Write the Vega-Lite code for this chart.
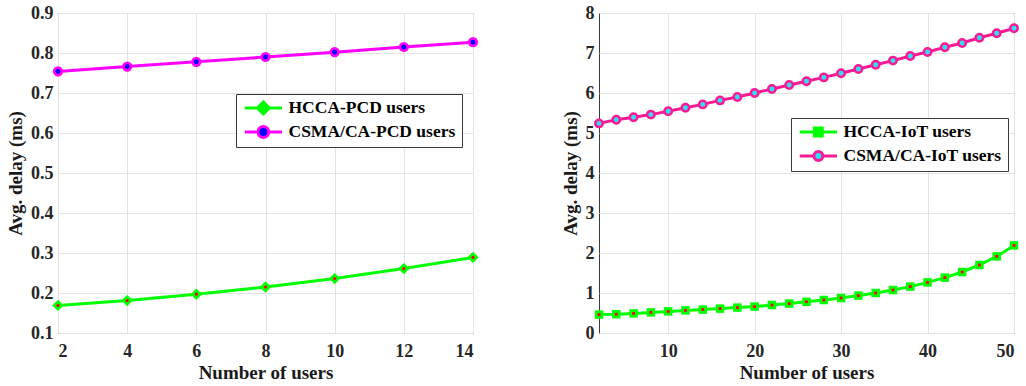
{
  "$schema": "https://vega.github.io/schema/vega-lite/v6.json",
  "padding": {"left": 6, "top": 3, "right": 2, "bottom": 4},
  "spacing": 80,
  "config": {
    "font": "Liberation Serif, Times New Roman, serif",
    "view": {"stroke": "#3a3a3a", "strokeWidth": 1},
    "axis": {
      "labelFont": "Liberation Serif, Times New Roman, serif",
      "labelFontWeight": "bold",
      "labelFontSize": 18,
      "labelColor": "#262626",
      "titleFont": "Liberation Serif, Times New Roman, serif",
      "titleFontWeight": "bold",
      "titleFontSize": 19,
      "titleColor": "#1a1a1a",
      "grid": true,
      "gridColor": "#e3e3e3",
      "gridWidth": 1,
      "domain": false,
      "ticks": false
    },
    "axisX": {"labelPadding": 9, "titlePadding": 3},
    "axisY": {"labelPadding": 5, "titlePadding": 5},
    "legend": {
      "orient": "none",
      "fillColor": "white",
      "strokeColor": "#3a3a3a",
      "padding": 6,
      "labelFont": "Liberation Serif, Times New Roman, serif",
      "labelFontSize": 17.5,
      "labelFontWeight": "bold",
      "labelColor": "#000000",
      "labelLimit": 400,
      "labelOffset": 29,
      "symbolSize": 144,
      "symbolStrokeWidth": 3,
      "clipHeight": 16,
      "rowPadding": 6
    }
  },
  "datasets": {
    "pcd": [
      {"users": 2, "series": "HCCA-PCD users", "delay": 0.169},
      {"users": 4, "series": "HCCA-PCD users", "delay": 0.181},
      {"users": 6, "series": "HCCA-PCD users", "delay": 0.197},
      {"users": 8, "series": "HCCA-PCD users", "delay": 0.215},
      {"users": 10, "series": "HCCA-PCD users", "delay": 0.236},
      {"users": 12, "series": "HCCA-PCD users", "delay": 0.261},
      {"users": 14, "series": "HCCA-PCD users", "delay": 0.289},
      {"users": 2, "series": "CSMA/CA-PCD users", "delay": 0.754},
      {"users": 4, "series": "CSMA/CA-PCD users", "delay": 0.766},
      {"users": 6, "series": "CSMA/CA-PCD users", "delay": 0.778},
      {"users": 8, "series": "CSMA/CA-PCD users", "delay": 0.790},
      {"users": 10, "series": "CSMA/CA-PCD users", "delay": 0.802},
      {"users": 12, "series": "CSMA/CA-PCD users", "delay": 0.815},
      {"users": 14, "series": "CSMA/CA-PCD users", "delay": 0.827}
    ],
    "iot": [
      {"users": 2, "series": "HCCA-IoT users", "delay": 0.46},
      {"users": 4, "series": "HCCA-IoT users", "delay": 0.47},
      {"users": 6, "series": "HCCA-IoT users", "delay": 0.49},
      {"users": 8, "series": "HCCA-IoT users", "delay": 0.515},
      {"users": 10, "series": "HCCA-IoT users", "delay": 0.54},
      {"users": 12, "series": "HCCA-IoT users", "delay": 0.565},
      {"users": 14, "series": "HCCA-IoT users", "delay": 0.585},
      {"users": 16, "series": "HCCA-IoT users", "delay": 0.61},
      {"users": 18, "series": "HCCA-IoT users", "delay": 0.635},
      {"users": 20, "series": "HCCA-IoT users", "delay": 0.66},
      {"users": 22, "series": "HCCA-IoT users", "delay": 0.70},
      {"users": 24, "series": "HCCA-IoT users", "delay": 0.735},
      {"users": 26, "series": "HCCA-IoT users", "delay": 0.78},
      {"users": 28, "series": "HCCA-IoT users", "delay": 0.825},
      {"users": 30, "series": "HCCA-IoT users", "delay": 0.875},
      {"users": 32, "series": "HCCA-IoT users", "delay": 0.935},
      {"users": 34, "series": "HCCA-IoT users", "delay": 1.0},
      {"users": 36, "series": "HCCA-IoT users", "delay": 1.075},
      {"users": 38, "series": "HCCA-IoT users", "delay": 1.16},
      {"users": 40, "series": "HCCA-IoT users", "delay": 1.265},
      {"users": 42, "series": "HCCA-IoT users", "delay": 1.385},
      {"users": 44, "series": "HCCA-IoT users", "delay": 1.525},
      {"users": 46, "series": "HCCA-IoT users", "delay": 1.70},
      {"users": 48, "series": "HCCA-IoT users", "delay": 1.915},
      {"users": 50, "series": "HCCA-IoT users", "delay": 2.19},
      {"users": 2, "series": "CSMA/CA-IoT users", "delay": 5.24},
      {"users": 4, "series": "CSMA/CA-IoT users", "delay": 5.33},
      {"users": 6, "series": "CSMA/CA-IoT users", "delay": 5.395},
      {"users": 8, "series": "CSMA/CA-IoT users", "delay": 5.46},
      {"users": 10, "series": "CSMA/CA-IoT users", "delay": 5.545},
      {"users": 12, "series": "CSMA/CA-IoT users", "delay": 5.63},
      {"users": 14, "series": "CSMA/CA-IoT users", "delay": 5.715},
      {"users": 16, "series": "CSMA/CA-IoT users", "delay": 5.815},
      {"users": 18, "series": "CSMA/CA-IoT users", "delay": 5.90},
      {"users": 20, "series": "CSMA/CA-IoT users", "delay": 6.0},
      {"users": 22, "series": "CSMA/CA-IoT users", "delay": 6.10},
      {"users": 24, "series": "CSMA/CA-IoT users", "delay": 6.20},
      {"users": 26, "series": "CSMA/CA-IoT users", "delay": 6.295},
      {"users": 28, "series": "CSMA/CA-IoT users", "delay": 6.39},
      {"users": 30, "series": "CSMA/CA-IoT users", "delay": 6.495},
      {"users": 32, "series": "CSMA/CA-IoT users", "delay": 6.60},
      {"users": 34, "series": "CSMA/CA-IoT users", "delay": 6.705},
      {"users": 36, "series": "CSMA/CA-IoT users", "delay": 6.81},
      {"users": 38, "series": "CSMA/CA-IoT users", "delay": 6.925},
      {"users": 40, "series": "CSMA/CA-IoT users", "delay": 7.025},
      {"users": 42, "series": "CSMA/CA-IoT users", "delay": 7.145},
      {"users": 44, "series": "CSMA/CA-IoT users", "delay": 7.25},
      {"users": 46, "series": "CSMA/CA-IoT users", "delay": 7.38},
      {"users": 48, "series": "CSMA/CA-IoT users", "delay": 7.495},
      {"users": 50, "series": "CSMA/CA-IoT users", "delay": 7.62}
    ]
  },
  "hconcat": [
    {
      "width": 415,
      "height": 320,
      "data": {"name": "pcd"},
      "encoding": {
        "x": {
          "field": "users", "type": "quantitative", "title": "Number of users",
          "scale": {"domain": [2, 14], "nice": false, "zero": false},
          "axis": {"values": [2, 4, 6, 8, 10, 12, 14]}
        },
        "y": {
          "field": "delay", "type": "quantitative", "title": "Avg. delay (ms)",
          "scale": {"domain": [0.1, 0.9], "nice": false, "zero": false},
          "axis": {"values": [0.1, 0.2, 0.3, 0.4, 0.5, 0.6, 0.7, 0.8, 0.9], "format": ".1f"}
        }
      },
      "layer": [
        {
          "mark": {"type": "line", "strokeWidth": 3},
          "encoding": {
            "color": {
              "field": "series", "type": "nominal",
              "scale": {"domain": ["HCCA-PCD users", "CSMA/CA-PCD users"], "range": ["#00ff00", "#ff00ff"]},
              "legend": {
                "title": null,
                "legendX": 178,
                "legendY": 81,
                "encode": {
                  "symbols": {
                    "update": {
                      "shape": {"signal": "datum.value === 'HCCA-PCD users' ? 'M-1,0H5.2M2.1,-1L3.1,0L2.1,1L1.1,0Z' : 'M-1,0H1.2A0.9,0.9 0 1,1 3,0H5.2M3,0A0.9,0.9 0 1,1 1.2,0'"},
                      "fill": {"signal": "datum.value === 'HCCA-PCD users' ? '#00ff00' : '#0000ff'"}
                    }
                  }
                }
              }
            }
          }
        },
        {
          "transform": [{"filter": "datum.series === 'HCCA-PCD users'"}],
          "mark": {"type": "point", "shape": "diamond", "filled": true, "size": 130, "color": "#00ff00", "opacity": 1}
        },
        {
          "transform": [{"filter": "datum.series === 'HCCA-PCD users'"}],
          "mark": {"type": "point", "shape": "circle", "filled": true, "size": 10, "color": "#ff0000", "opacity": 1}
        },
        {
          "transform": [{"filter": "datum.series === 'CSMA/CA-PCD users'"}],
          "mark": {"type": "point", "shape": "circle", "filled": true, "size": 105, "color": "#ff00ff", "opacity": 1}
        },
        {
          "transform": [{"filter": "datum.series === 'CSMA/CA-PCD users'"}],
          "mark": {"type": "point", "shape": "circle", "filled": true, "size": 24, "color": "#0000ff", "opacity": 1}
        }
      ]
    },
    {
      "width": 415,
      "height": 320,
      "data": {"name": "iot"},
      "encoding": {
        "x": {
          "field": "users", "type": "quantitative", "title": "Number of users",
          "scale": {"domain": [2, 50], "nice": false, "zero": false},
          "axis": {"values": [10, 20, 30, 40, 50]}
        },
        "y": {
          "field": "delay", "type": "quantitative", "title": "Avg. delay (ms)",
          "scale": {"domain": [0, 8], "nice": false},
          "axis": {"values": [0, 1, 2, 3, 4, 5, 6, 7, 8]}
        }
      },
      "layer": [
        {
          "mark": {"type": "line", "strokeWidth": 3},
          "encoding": {
            "color": {
              "field": "series", "type": "nominal",
              "scale": {"domain": ["HCCA-IoT users", "CSMA/CA-IoT users"], "range": ["#00ff00", "#fa1a96"]},
              "legend": {
                "title": null,
                "legendX": 192,
                "legendY": 105,
                "encode": {
                  "symbols": {
                    "update": {
                      "shape": {"signal": "datum.value === 'HCCA-IoT users' ? 'M-1,0H5.2M1.45,-0.65H2.75V0.65H1.45Z' : 'M-1,0H1.35A0.75,0.75 0 1,1 2.85,0H5.2M2.85,0A0.75,0.75 0 1,1 1.35,0'"},
                      "fill": {"signal": "datum.value === 'HCCA-IoT users' ? '#00ff00' : '#2ee0f2'"}
                    }
                  }
                }
              }
            }
          }
        },
        {
          "transform": [{"filter": "datum.series === 'HCCA-IoT users'"}],
          "mark": {"type": "point", "shape": "square", "filled": true, "size": 72, "color": "#00ff00", "opacity": 1}
        },
        {
          "transform": [{"filter": "datum.series === 'HCCA-IoT users'"}],
          "mark": {"type": "point", "shape": "square", "filled": true, "size": 8, "color": "#ff0000", "opacity": 1}
        },
        {
          "transform": [{"filter": "datum.series === 'CSMA/CA-IoT users'"}],
          "mark": {"type": "point", "shape": "circle", "filled": false, "size": 55, "stroke": "#fa1a96", "strokeWidth": 2.5, "fill": "#2ee0f2", "fillOpacity": 1, "opacity": 1}
        }
      ]
    }
  ],
  "resolve": {"scale": {"color": "independent"}, "legend": {"color": "independent"}}
}
